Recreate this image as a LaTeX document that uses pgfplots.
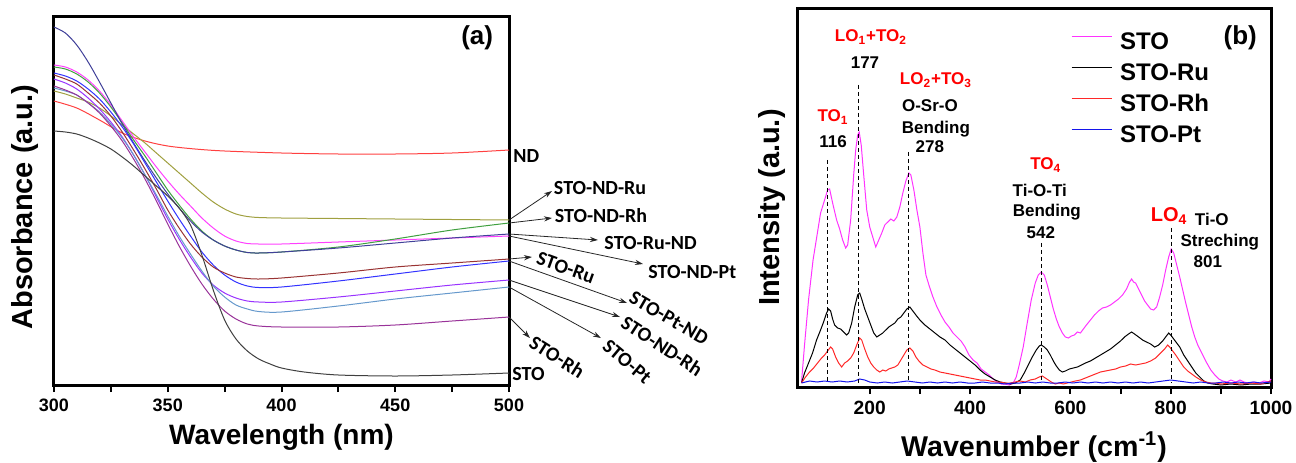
\documentclass[border=0pt]{standalone}
\usepackage{fontspec}
\setmainfont{Liberation Sans}
\newfontfamily\cali{Carlito}
\usepackage{pgfplots}
\pgfplotsset{compat=1.18}
\usetikzlibrary{arrows.meta}

\definecolor{cND}{RGB}{255,64,64}
\definecolor{cOlive}{RGB}{160,160,64}
\definecolor{cMag}{RGB}{255,64,255}
\definecolor{cGreen}{RGB}{64,160,64}
\definecolor{cNavy}{RGB}{64,64,153}
\definecolor{cBlue}{RGB}{51,51,255}
\definecolor{cBrown}{RGB}{153,51,51}
\definecolor{cViolet}{RGB}{153,51,255}
\definecolor{cSteel}{RGB}{102,153,204}
\definecolor{cDMag}{RGB}{153,51,153}
\definecolor{cSTO}{RGB}{64,64,64}
\definecolor{sMag}{RGB}{255,51,255}
\definecolor{sRed}{RGB}{255,40,40}
\definecolor{sBlue}{RGB}{20,20,235}

\pgfplotsset{
  common/.style={
    scale only axis, clip=false,
    axis line style={line width=1.5pt},
    ytick=\empty, xtick pos=bottom, tick align=outside,
    major tick length=3.5pt, minor tick length=3.5pt,
    tick style={line width=1pt, black},
    /pgf/number format/assume math mode=true,
    /pgf/number format/1000 sep={},
  },
}
\tikzset{
  arr/.style={line width=0.4pt, black!85, -{Stealth[length=4pt,width=2.6pt]}},
  lab/.style={font=\cali\bfseries\fontsize{10}{10}\selectfont, inner sep=0pt},
  ann/.style={font=\bfseries\fontsize{8.5}{8.5}\selectfont, inner sep=0pt},
}

\begin{document}
\begin{tikzpicture}
% ---------- (a) UV-vis ----------
\begin{axis}[common,
  at={(27pt,38.5pt)}, anchor=south west,
  width=227.5pt, height=184.5pt,
  xmin=300, xmax=500, ymin=0, ymax=369,
  xtick={300,350,400,450,500}, minor x tick num=1,
  xticklabel style={font=\bfseries\fontsize{9}{9}\selectfont},
  xlabel={Wavelength (nm)},
  xlabel style={at={(axis description cs:0.5,-0.141)}, anchor=center, font=\bfseries\fontsize{14}{14}\selectfont},
  ylabel={Absorbance (a.u.)},
  ylabel style={at={(axis description cs:-0.064,0.482)}, anchor=center, font=\bfseries\fontsize{14.5}{14.5}\selectfont},
  every axis plot/.append style={line width=0.5pt, smooth},
]
\addplot[cND] coordinates {(300,284)(310,277)(320,265)(330,252)(340,244)(350,239)(362,236)(375,234)(400,232)(425,231)(450,231)(475,232)(500,235)};
\addplot[cOlive] coordinates {(300,294)(305,291)(310,287)(315,283)(320,277)(325,269)(330,260)(335,251)(340,242)(345,232)(350,222)(355,212)(360,202)(365,192)(370,183)(375,176)(380,171)(385,168.5)(390,167.5)(400,167)(425,166.5)(450,166)(475,165.5)(500,165)};
\addplot[cMag] coordinates {(300,320)(305,318)(310,313)(315,305)(320,294)(325,280)(330,264)(335,248)(340,233)(345,218)(350,204)(355,191)(360,179)(365,167)(370,157)(375,149)(380,144)(385,141.5)(390,141)(400,141)(425,143)(450,145)(475,147)(500,149)};
\addplot[cGreen] coordinates {(300,318)(305,316)(310,311)(315,303)(320,292)(325,278)(330,262)(335,245)(340,229)(345,212)(350,195)(355,180)(360,166)(365,154)(370,145)(375,139)(380,135)(385,132.5)(390,132)(400,133)(425,138)(450,146)(475,155)(500,162)};
\addplot[cNavy] coordinates {(300,358)(305,352)(310,340)(315,323)(320,303)(325,282)(330,261)(335,242)(340,224)(345,207)(350,191)(355,177)(360,164)(365,153)(370,145)(375,139)(380,135)(385,132.5)(390,132)(400,133)(425,137)(450,142)(475,147)(500,151)};
\addplot[cBlue] coordinates {(300,312)(305,309)(310,304)(315,296)(320,286)(325,273)(330,258)(335,241)(340,222)(345,203)(350,184)(355,166)(360,149)(365,133)(370,120)(375,110)(380,103)(385,99)(390,97.5)(400,98)(425,104)(450,111)(475,118)(500,124)};
\addplot[cBrown] coordinates {(300,310)(305,306)(310,301)(315,292)(320,282)(325,269)(330,253)(335,235)(340,216)(345,196)(350,175)(355,157)(360,141)(365,128)(370,118)(375,112)(380,108)(385,106.5)(390,106)(400,107)(425,112)(450,118)(475,122)(500,126)};
\addplot[cViolet] coordinates {(300,306)(305,302)(310,296)(315,287)(320,276)(325,263)(330,248)(335,230)(340,210)(345,188)(350,166)(355,146)(360,128)(365,112)(370,100)(375,92)(380,87)(385,84)(390,83)(400,83)(425,88)(450,94)(475,100)(500,105)};
\addplot[cSteel] coordinates {(300,297)(305,294)(310,290)(315,282)(320,273)(325,261)(330,247)(335,230)(340,210)(345,190)(350,169)(355,149)(360,131)(365,114)(370,99)(375,88)(380,80)(385,76)(390,73.5)(400,73)(425,79)(450,86)(475,92)(500,98)};
\addplot[cDMag] coordinates {(300,299)(305,295)(310,290)(315,282)(320,272)(325,259)(330,244)(335,226)(340,206)(345,184)(350,161)(355,139)(360,119)(365,101)(370,86)(375,74)(380,66)(385,61)(390,59)(400,58)(425,58)(450,60)(475,64)(500,68)};
\addplot[cSTO] coordinates {(300,254)(305,253)(310,251)(315,247)(320,242)(325,236)(330,228)(335,219)(340,209)(345,199)(350,189)(355,177)(360,160)(365,130)(370,95)(375,65)(380,46)(385,34)(390,26)(395,21)(400,17)(410,13)(425,10)(450,9)(475,10)(500,12)};

\node[font=\bfseries\fontsize{13}{13}\selectfont] at (axis description cs:0.93,0.94) {(a)};
% end labels
\node[lab, anchor=west] at (axis cs:501.8,229) {ND};
\draw[arr] (axis cs:500,165) -- (axis cs:518.9,194);
\node[lab, anchor=west] at (axis cs:519.6,197) {STO-ND-Ru};
\draw[arr] (axis cs:500,162) -- (axis cs:518.9,167);
\node[lab, anchor=west] at (axis cs:520,169) {STO-ND-Rh};
\draw[arr] (axis cs:500,151) -- (axis cs:539.1,145);
\node[lab, anchor=west] at (axis cs:541.8,142) {STO-Ru-ND};
\draw[arr] (axis cs:500,149) -- (axis cs:558.9,121);
\node[lab, anchor=west] at (axis cs:561.1,113) {STO-ND-Pt};
\draw[arr] (axis cs:500,126) -- (axis cs:510.1,128);
\node[lab, rotate=-20] at (axis cs:525,117) {STO-Ru};
\draw[arr] (axis cs:500,124) -- (axis cs:551.9,82);
\node[lab, rotate=-30] at (axis cs:570.3,67) {STO-Pt-ND};
\draw[arr] (axis cs:500,105) -- (axis cs:548.8,68);
\node[lab, rotate=-33] at (axis cs:567.3,39) {STO-ND-Rh};
\draw[arr] (axis cs:500,98) -- (axis cs:540.4,47);
\node[lab, rotate=-40] at (axis cs:551.9,23) {STO-Pt};
\draw[arr] (axis cs:500,68) -- (axis cs:509.2,47);
\node[lab, rotate=-32] at (axis cs:521.1,28) {STO-Rh};
\node[lab, anchor=west] at (axis cs:501.3,11) {STO};
\end{axis}

% ---------- (b) Raman ----------
\begin{axis}[common,
  at={(398.5pt,37.5pt)}, anchor=south west,
  width=237pt, height=189.25pt,
  xmin=55, xmax=1000, ymin=-2, ymax=376.5,
  xtick={200,400,600,800,1000}, minor x tick num=1,
  xticklabel style={font=\bfseries\fontsize{9.6}{9.6}\selectfont},
  xlabel={Wavenumber (cm\textsuperscript{-1})},
  xlabel style={at={(axis description cs:0.5,-0.159)}, anchor=center, font=\bfseries\fontsize{14.3}{14.3}\selectfont},
  ylabel={Intensity (a.u.)},
  ylabel style={at={(axis description cs:-0.053,0.474)}, anchor=center, font=\bfseries\fontsize{14.5}{14.5}\selectfont},
  every axis plot/.append style={line width=0.5pt},
  legend style={at={(axis description cs:0.565,0.948)}, anchor=north west, draw=none, fill=none,
    font=\bfseries\fontsize{12}{12}\selectfont, row sep=7.1pt,
    nodes={inner sep=0pt, text height=8.4pt, text depth=0pt}},
  legend cell align=left,
  legend image code/.code={\draw[#1] (0pt,2pt) -- (20pt,2pt);},
  /tikz/every odd column/.append style={column sep=4pt},
]
\addplot[sMag] coordinates {(64,3)(70,40)(78,85)(87,125)(95,150)(102,172)(110,185)(116,195)(120,196)(126,182)(134,165)(140,156)(146,145)(152,137)(156,140)(162,165)(168,210)(172,235)(176,250)(179,253)(183,240)(188,210)(194,175)(200,158)(206,148)(212,138)(218,145)(224,152)(230,160)(236,163)(242,166)(248,164)(254,168)(260,178)(266,192)(272,204)(278,212)(282,210)(288,195)(294,175)(300,158)(306,132)(312,110)(318,100)(326,88)(334,78)(342,70)(350,63)(358,58)(366,52)(374,48)(382,44)(390,38)(398,30)(406,25)(414,22)(422,16)(430,13)(438,10)(446,6)(454,3)(462,1)(470,1)(478,0)(486,2)(492,8)(498,20)(506,38)(514,62)(522,85)(530,102)(536,110)(542,113)(548,110)(554,100)(560,88)(566,76)(572,66)(578,58)(584,52)(590,48)(596,47)(602,49)(608,50)(614,53)(620,52)(626,56)(632,60)(640,65)(648,70)(656,74)(664,77)(672,78)(680,80)(688,83)(696,86)(704,90)(712,96)(718,103)(722,106)(726,103)(730,102)(736,96)(742,90)(748,84)(754,80)(760,76)(766,75)(772,78)(778,88)(784,100)(790,115)(796,128)(801,136)(806,132)(812,120)(818,108)(824,95)(830,82)(836,70)(842,58)(848,48)(854,40)(860,34)(866,28)(872,22)(880,15)(888,10)(896,6)(904,4)(912,3)(920,5)(930,3)(938,5)(946,3)(956,2)(966,3)(976,2)(986,4)(996,3)(1000,6)};
\addplot[black] coordinates {(64,2)(70,12)(78,22)(86,32)(94,45)(102,55)(108,63)(114,72)(118,76)(122,74)(126,66)(130,60)(136,57)(142,56)(148,53)(154,50)(158,52)(164,62)(170,78)(176,90)(180,92)(184,86)(190,76)(196,68)(202,60)(208,52)(214,48)(220,50)(226,52)(232,55)(238,58)(244,60)(250,62)(256,66)(262,68)(268,72)(274,76)(280,78)(286,74)(292,70)(300,65)(310,60)(320,56)(330,52)(340,48)(350,45)(360,40)(370,36)(380,32)(390,28)(400,24)(410,20)(420,15)(430,11)(440,8)(450,5)(460,3)(470,2)(480,1)(490,2)(500,5)(508,12)(516,20)(524,28)(532,35)(538,39)(542,40)(548,38)(554,35)(560,30)(566,24)(572,19)(578,15)(584,13)(590,14)(598,16)(606,17)(614,18)(622,20)(630,22)(640,24)(650,27)(660,30)(670,33)(680,36)(690,40)(700,44)(708,48)(716,51)(722,53)(728,51)(736,48)(744,45)(752,43)(760,41)(768,38)(776,40)(784,44)(790,48)(796,52)(800,50)(806,46)(812,42)(818,38)(826,30)(834,24)(842,18)(850,12)(858,8)(866,4)(874,2)(884,1)(900,0)(920,1)(940,0)(960,1)(980,1)(1000,2)};
\addplot[sRed] coordinates {(64,2)(72,8)(80,13)(88,17)(96,22)(104,27)(110,30)(116,34)(122,38)(126,36)(132,28)(138,22)(144,18)(150,22)(156,24)(162,27)(168,32)(174,40)(180,47)(184,45)(190,36)(196,28)(202,22)(208,18)(214,15)(220,13)(226,15)(232,14)(238,16)(244,17)(250,18)(256,20)(262,25)(268,30)(274,35)(280,37)(286,34)(292,28)(298,24)(306,20)(314,18)(322,16)(330,15)(340,13)(350,12)(360,11)(370,10)(380,9)(390,8)(400,7)(410,6)(420,5)(430,5)(440,4)(450,3)(460,3)(470,2)(480,2)(490,3)(500,4)(510,3)(520,5)(530,6)(538,8)(544,9)(550,7)(556,5)(562,3)(570,1)(578,2)(586,1)(594,2)(602,3)(610,4)(620,5)(630,7)(640,9)(650,11)(660,13)(670,14)(680,15)(690,16)(700,18)(710,19)(720,21)(730,20)(740,21)(750,22)(760,24)(770,27)(780,32)(788,36)(794,40)(798,38)(804,34)(810,30)(818,24)(826,18)(834,14)(842,11)(850,8)(860,5)(870,3)(880,2)(890,2)(900,1)(920,2)(940,1)(960,2)(980,1)(1000,4)};
\addplot[sBlue] coordinates {(64,2)(80,4)(95,3)(110,4)(125,3)(140,4)(155,3)(170,4)(180,6)(190,5)(200,3)(215,2)(230,3)(245,2)(260,3)(275,4)(290,3)(305,2)(320,3)(335,2)(350,3)(365,2)(380,3)(395,2)(410,2)(425,3)(440,2)(455,2)(470,1)(485,2)(500,2)(515,3)(530,2)(545,3)(560,2)(575,2)(590,3)(605,2)(620,3)(635,2)(650,3)(665,2)(680,3)(695,2)(710,3)(725,2)(740,3)(755,2)(770,3)(785,4)(800,5)(815,4)(830,3)(845,2)(860,3)(875,2)(890,2)(905,3)(920,2)(935,3)(950,2)(965,3)(980,2)(1000,3)};
\legend{STO,STO-Ru,STO-Rh,STO-Pt}

\node[font=\bfseries\fontsize{13}{13}\selectfont] at (axis description cs:0.935,0.922) {(b)};
% peak markers
\draw[line width=0.5pt, dash pattern=on 2pt off 1.5pt] (axis cs:116,225) -- (axis cs:116,2);
\draw[line width=0.5pt, dash pattern=on 2pt off 1.5pt] (axis cs:177,300) -- (axis cs:177,2);
\draw[line width=0.5pt, dash pattern=on 2pt off 1.5pt] (axis cs:278,233) -- (axis cs:278,2);
\draw[line width=0.5pt, dash pattern=on 2pt off 1.5pt] (axis cs:542,142) -- (axis cs:542,2);
\draw[line width=0.5pt, dash pattern=on 2pt off 1.5pt] (axis cs:801,157) -- (axis cs:801,2);
\node[ann, red] at (axis cs:202.5,348) {LO\textsubscript{1}+TO\textsubscript{2}};
\node[ann] at (axis cs:190.6,322) {177};
\node[ann, red] at (axis cs:332,305) {LO\textsubscript{2}+TO\textsubscript{3}};
\node[ann] at (axis cs:320,279) {O-Sr-O};
\node[ann] at (axis cs:332,256) {Bending};
\node[ann] at (axis cs:320,238) {278};
\node[ann, red] at (axis cs:127,268) {TO\textsubscript{1}};
\node[ann] at (axis cs:127,243) {116};
\node[ann, red] at (axis cs:551,220) {TO\textsubscript{4}};
\node[ann] at (axis cs:539,195) {Ti-O-Ti};
\node[ann] at (axis cs:553,173) {Bending};
\node[ann] at (axis cs:541,152) {542};
\node[ann, red, font=\bfseries\fontsize{10}{10}\selectfont] at (axis cs:797,169) {LO\textsubscript{4}};
\node[ann] at (axis cs:882,166) {Ti-O};
\node[ann] at (axis cs:898,143) {Streching};
\node[ann] at (axis cs:874,123) {801};
\end{axis}
\pgfresetboundingbox
\path[use as bounding box] (0pt,0pt) rectangle (648pt,231pt);
\end{tikzpicture}
\end{document}
